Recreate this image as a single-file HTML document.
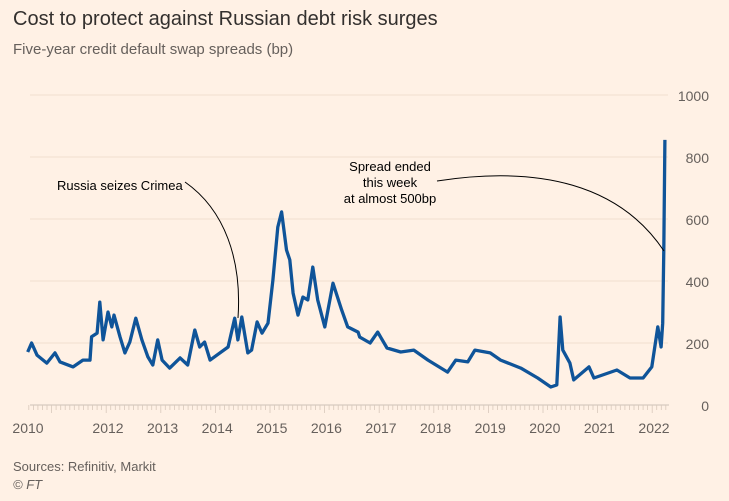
<!DOCTYPE html>
<html><head><meta charset="utf-8"><style>
body{margin:0;background:#fff1e5;}
svg{display:block;font-family:"Liberation Sans",sans-serif;}
</style></head><body>
<svg id="chart" width="729" height="501" viewBox="0 0 729 501">
<rect width="729" height="501" fill="#fff1e5"/>
<text x="13" y="25" font-size="20" fill="#33302e">Cost to protect against Russian debt risk surges</text>
<text x="13" y="54" font-size="15" fill="#66605c">Five-year credit default swap spreads (bp)</text>
<g id="grid"></g>
<g id="yticks"></g>
<g id="xaxis"></g>
<path id="line" fill="none" stroke="#0f5499" stroke-width="3.3" stroke-linejoin="round"/>
<path d="M185,182 C225,210 242,260 238,318" fill="none" stroke="#000" stroke-width="1"/>
<text x="57" y="190" font-size="13" fill="#000">Russia seizes Crimea</text>
<path d="M437,181 C540,165 620,185 664,251" fill="none" stroke="#000" stroke-width="1"/>
<text font-size="13" fill="#000" text-anchor="middle"><tspan x="390" y="171">Spread ended</tspan><tspan x="390" y="187">this week</tspan><tspan x="390" y="203">at almost 500bp</tspan></text>
<text x="13" y="471" font-size="13" fill="#66605c">Sources: Refinitiv, Markit</text>
<text x="13" y="489" font-size="13" fill="#66605c" font-style="italic">© FT</text>
</svg>
<script>
const dates=[2010.53,2010.60,2010.70,2010.88,2011.03,2011.12,2011.36,2011.54,2011.67,2011.70,2011.80,2011.85,2011.91,2012.00,2012.07,2012.11,2012.22,2012.31,2012.40,2012.51,2012.62,2012.73,2012.82,2012.91,2012.99,2013.13,2013.32,2013.46,2013.59,2013.68,2013.77,2013.87,2014.05,2014.20,2014.32,2014.38,2014.45,2014.56,2014.63,2014.73,2014.82,2014.93,2015.02,2015.11,2015.18,2015.27,2015.33,2015.39,2015.48,2015.57,2015.66,2015.75,2015.84,2015.97,2016.12,2016.28,2016.39,2016.58,2016.61,2016.80,2016.94,2017.11,2017.36,2017.60,2017.86,2018.22,2018.37,2018.59,2018.72,2019.00,2019.19,2019.56,2019.87,2020.11,2020.22,2020.28,2020.33,2020.46,2020.53,2020.81,2020.90,2021.32,2021.56,2021.80,2021.96,2022.07,2022.13,2022.16,2022.18,2022.20];
const spreads=[171,200,161,135,168,139,123,145,145,220,232,332,210,300,252,290,220,168,203,280,210,155,129,210,145,119,152,129,242,187,203,145,168,187,280,210,284,168,177,268,232,264,403,574,623,500,468,361,290,348,339,445,339,252,393,306,252,235,219,200,235,184,171,177,145,106,145,139,177,168,145,119,87,58,65,284,177,135,81,123,87,113,87,87,123,252,187,264,500,855];
const yTicks=[0,200,400,600,800,1000];
const xYears=[2010,2012,2013,2014,2015,2016,2017,2018,2019,2020,2021,2022];
const ns="http://www.w3.org/2000/svg";
const xs=t=>654+(t-2022)*54.6;
const ys=v=>405-v*0.31;
const grid=document.getElementById('grid'),yt=document.getElementById('yticks'),xa=document.getElementById('xaxis');
yTicks.forEach(v=>{
 if(v>0){const l=document.createElementNS(ns,'line');
 
 
 l.setAttribute('x1',30);l.setAttribute('x2',668);l.setAttribute('y1',ys(v));l.setAttribute('y2',ys(v));
 l.setAttribute('stroke','#f2dfce');l.setAttribute('stroke-width','1');grid.appendChild(l);}
 const t=document.createElementNS(ns,'text');
 
 
 t.setAttribute('x',709);t.setAttribute('y',ys(v)+6);t.setAttribute('text-anchor','end');
 t.setAttribute('font-size','14');t.setAttribute('fill','#66605c');t.textContent=v;yt.appendChild(t);
});
const base=document.createElementNS(ns,'line');


base.setAttribute('x1',30);base.setAttribute('x2',669);base.setAttribute('y1',405);base.setAttribute('y2',405);base.setAttribute('stroke','#ccc1b7');xa.appendChild(base);
let d='';
for(let m=0;m<=144;m++){const t=2010.55+m/12;const x=xs(t);if(x>669)break;d+='M'+x.toFixed(1)+',405v'+(m%12==5?8:5);}
const tk=document.createElementNS(ns,'path');


tk.setAttribute('d',d);tk.setAttribute('stroke','#d8c9bb');tk.setAttribute('stroke-width','0.8');xa.appendChild(tk);
xYears.forEach(y=>{const t=document.createElementNS(ns,'text');
 
 
 const x=y==2010?28:xs(y);
 t.setAttribute('x',x);t.setAttribute('y',433);t.setAttribute('text-anchor','middle');
 t.setAttribute('font-size','14');t.setAttribute('fill','#66605c');t.textContent=y;xa.appendChild(t);});
document.getElementById('line').setAttribute('d',dates.map((t,i)=>(i?'L':'M')+xs(t).toFixed(1)+','+ys(spreads[i]).toFixed(1)).join(''));
</script>
</body></html>
